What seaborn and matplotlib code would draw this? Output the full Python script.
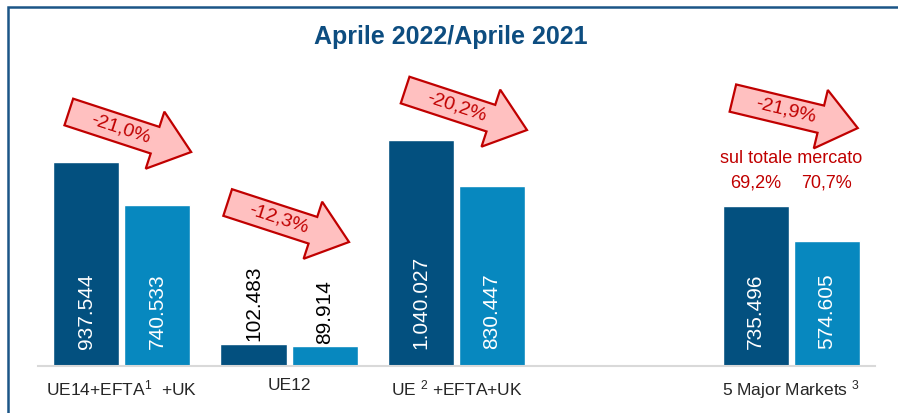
import math
import pandas as pd
import matplotlib
import matplotlib.pyplot as plt
import matplotlib.patches as mpatches
import matplotlib.transforms as mtransforms
import seaborn as sns

# data
markets = ["UE14+EFTA+UK", "UE12", "UE+EFTA+UK", "5 Major Markets"]
tick_labels = [r"UE14+EFTA$^{1}$  +UK", "UE12", r"UE $^{2}$ +EFTA+UK",
               r"5 Major Markets $^{3}$"]
years = ["Aprile 2021", "Aprile 2022"]
regs_2021 = [937544, 102483, 1040027, 735496]
regs_2022 = [740533, 89914, 830447, 574605]
share_total = ["69,2%", "70,7%"]

DARK = "#03507F"
LIGHT = "#0788BF"
RED = "#C00000"
PINK = "#FFC0C0"

sns.set_theme(style="white")
plt.rcParams["font.family"] = ["Liberation Sans", "DejaVu Sans"]
plt.rcParams["mathtext.fontset"] = "custom"
plt.rcParams["mathtext.rm"] = "Liberation Sans"
plt.rcParams["mathtext.it"] = "Liberation Sans"
plt.rcParams["mathtext.bf"] = "Liberation Sans:bold"

df = pd.DataFrame({
    "market": markets * 2,
    "year": [years[0]] * 4 + [years[1]] * 4,
    "value": regs_2021 + regs_2022,
})

fig = plt.figure(figsize=(8.98, 4.13), dpi=100)
ax = fig.add_axes([38 / 898, 47 / 413, 837 / 898, 346 / 413])

# empty slot between the third and the fourth group
order = markets[:3] + [" "] + markets[3:]
sns.barplot(data=df, x="market", y="value", hue="year", order=order,
            palette=[DARK, LIGHT], width=0.85, gap=0.07, saturation=1,
            legend=False, ax=ax)

ax.set_xlim(-0.5, 4.5)
ax.set_ylim(0, max(regs_2021) * 1.531)
ax.set_xlabel("")
ax.set_ylabel("")
ax.set_yticks([])
ax.set_xticks([0, 1, 2, 4])
ax.set_xticklabels(tick_labels, fontsize=12.5, color="#262626")
ax.tick_params(axis="x", length=0, pad=9)
for s in ["top", "right", "left"]:
    ax.spines[s].set_visible(False)
ax.spines["bottom"].set_color("#D9D9D9")
ax.spines["bottom"].set_linewidth(1.5)

# value labels
for cont in ax.containers:
    for bar in cont:
        v = bar.get_height()
        if v != v or v == 0:
            continue
        txt = f"{int(v):,}".replace(",", ".")
        xc = bar.get_x() + bar.get_width() / 2
        if v > 200000:
            ax.annotate(txt, (xc, 0), xytext=(0, 12), textcoords="offset points",
                        rotation=90, ha="center", va="bottom", color="white",
                        fontsize=15)
        else:
            ax.annotate(txt, (xc, v), xytext=(0, 2), textcoords="offset points",
                        rotation=90, ha="center", va="bottom", color="black",
                        fontsize=15)

# arrows with percentage change
pct = [f"{(b / a - 1) * 100:.1f}%".replace(".", ",") for a, b in zip(regs_2021, regs_2022)]
group_x = [0, 1, 2, 4]
arrow_pos = [(-0.316, 1169000, 0.415, 984800),
             (-0.367, 752400, 0.358, 570600),
             (-0.307, 1270000, 0.421, 1086000),
             (-0.349, 1233000, 0.397, 1095000)]
ident = mtransforms.IdentityTransform()
for gx, (x0, y0, x1, y1), p in zip(group_x, arrow_pos, pct):
    (px0, py0), (px1, py1) = ax.transData.transform([(gx + x0, y0), (gx + x1, y1)])
    dx, dy = px1 - px0, py1 - py0
    arr = mpatches.FancyArrow(px0, py0, dx, dy, width=28, head_width=60,
                              head_length=38, length_includes_head=True,
                              facecolor=PINK, edgecolor=RED, linewidth=1.6,
                              transform=ident, zorder=5)
    fig.add_artist(arr)
    ang = math.degrees(math.atan2(dy, dx))
    fig.text(px0 + 0.42 * dx, py0 + 0.42 * dy, p, transform=ident,
             rotation=ang, rotation_mode="anchor", ha="center", va="center",
             color=RED, fontsize=14, zorder=6)

# share of total market
ax.text(4, 957000, "sul totale mercato", ha="center", va="center",
        color=RED, fontsize=13)
for cont, s in zip(ax.containers, share_total):
    bar = cont[3] if len(cont) > 3 else cont[-1]
    ax.text(bar.get_x() + bar.get_width() / 2, 842000, s, ha="center",
            va="center", color=RED, fontsize=13)

fig.text(451 / 898, 1 - 37 / 413, "Aprile 2022/Aprile 2021", ha="center",
         va="center", fontsize=18, fontweight="bold", color="#0D4D80")

# frame
frame = mpatches.Rectangle((8 / 898, -0.1), 1.2, 1.1 - 7 / 413,
                           transform=fig.transFigure, fill=False,
                           edgecolor="#1B5587", linewidth=1.8)
fig.add_artist(frame)

fig.savefig("out.png", dpi=100)
